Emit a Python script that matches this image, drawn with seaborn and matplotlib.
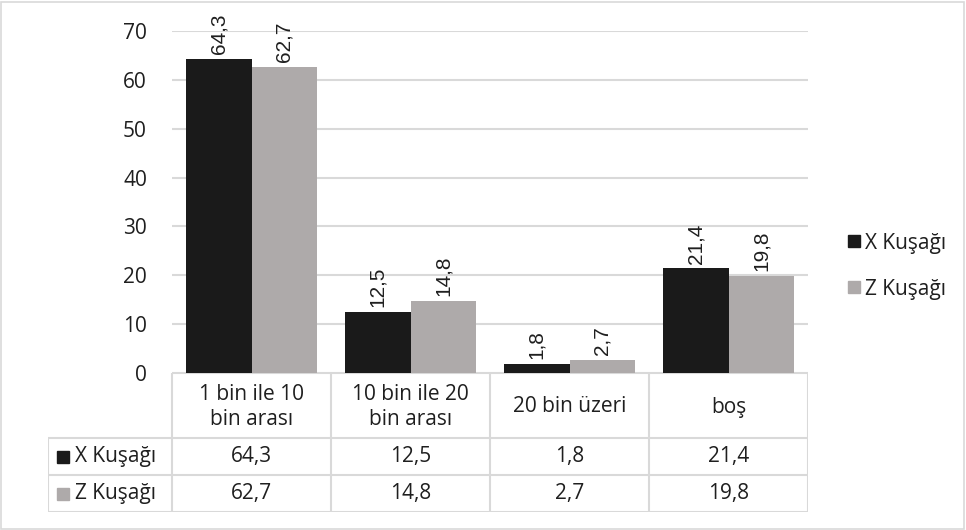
import pandas as pd
import numpy as np
import seaborn as sns
import matplotlib.pyplot as plt
from matplotlib.patches import Patch, Rectangle

kategoriler = ["1 bin ile 10\nbin arası", "10 bin ile 20\nbin arası", "20 bin üzeri", "boş"]
seriler = ["X Kuşağı", "Z Kuşağı"]
x_kusagi = [64.3, 12.5, 1.8, 21.4]
z_kusagi = [62.7, 14.8, 2.7, 19.8]
renkler = ["#1a1a1a", "#aeaaaa"]

df = pd.DataFrame({
    "kategori": kategoriler * 2,
    "seri": [seriler[0]] * 4 + [seriler[1]] * 4,
    "deger": x_kusagi + z_kusagi,
})

W, H = 966, 530
FS = 15
YAZI = "#1f1f1f"
sns.set_style("white")
plt.rcParams["font.family"] = ["Open Sans", "DejaVu Sans"]

fig = plt.figure(figsize=(W / 100, H / 100), dpi=100)

def eksen(sol, ust, sag, alt):
    return fig.add_axes([sol / W, 1 - alt / H, (sag - sol) / W, (alt - ust) / H])

ax = eksen(172, 31, 808, 373)
sns.barplot(data=df, x="kategori", y="deger", hue="seri", palette=renkler,
            width=0.83, legend=False, ax=ax, saturation=1, linewidth=0)
ax.set_ylim(0, 70)
ax.set_xlim(-0.5, 3.5)
ax.set_yticks(range(0, 71, 10))
ax.yaxis.grid(True, color="#d9d9d9", linewidth=1.5)
ax.set_axisbelow(True)
ax.set_xticks([])
ax.set_xlabel("")
ax.set_ylabel("")
for s in ax.spines.values():
    s.set_visible(False)
ax.tick_params(axis="y", length=0, pad=18, labelsize=FS, labelcolor=YAZI)

for kap in ax.containers:
    etiketler = [f"{b.get_height():.1f}".replace(".", ",") for b in kap]
    ax.bar_label(kap, labels=etiketler, rotation=90, padding=3.5, fontsize=15,
                 family="Liberation Sans", color=YAZI)

# veri tablosu
tab = eksen(48, 373, 808, 512)
tab.set_xlim(48, 808)
tab.set_ylim(512, 373)
tab.axis("off")
cizgi = dict(color="#d9d9d9", linewidth=1.5, solid_capstyle="butt")
sutunlar = [172 + i * 159 for i in range(5)]
satirlar = [373, 438, 475, 512]
for y in satirlar:
    x0 = 172 if y == 373 else 48
    tab.plot([x0, 808], [y, y], **cizgi)
for x in sutunlar:
    tab.plot([x, x], [373, 512], **cizgi)
tab.plot([48, 48], [438, 512], **cizgi)

for i, kat in enumerate(kategoriler):
    xc = (sutunlar[i] + sutunlar[i + 1]) / 2
    tab.text(xc, 407, kat, ha="center", va="center", fontsize=FS,
             color=YAZI, linespacing=1.25)
for j, (ad, degerler) in enumerate([(seriler[0], x_kusagi), (seriler[1], z_kusagi)]):
    yc = (satirlar[j + 1] + satirlar[j + 2]) / 2
    tab.add_patch(Rectangle((57, yc - 6), 12, 12, color=renkler[j]))
    tab.text(75, yc, ad, ha="left", va="center", fontsize=FS, color=YAZI)
    for i, v in enumerate(degerler):
        xc = (sutunlar[i] + sutunlar[i + 1]) / 2
        tab.text(xc, yc, f"{v:.1f}".replace(".", ","), ha="center", va="center",
                 fontsize=FS, color=YAZI)

# lejant
tutamaclar = [Patch(color=renkler[k], label=seriler[k]) for k in range(2)]
fig.legend(handles=tutamaclar, loc="center left", bbox_to_anchor=(838 / W, 1 - 266 / H),
           frameon=False, fontsize=FS, handlelength=0.55, handleheight=0.55,
           handletextpad=0.25, labelspacing=1.2, labelcolor=YAZI, borderpad=0)

fig.patches.append(Rectangle((1 / W, 1 / H), (W - 3) / W, (H - 3) / H, transform=fig.transFigure,
                             fill=False, edgecolor="#d9d9d9", linewidth=1.2))

fig.savefig("out.png", dpi=100)
